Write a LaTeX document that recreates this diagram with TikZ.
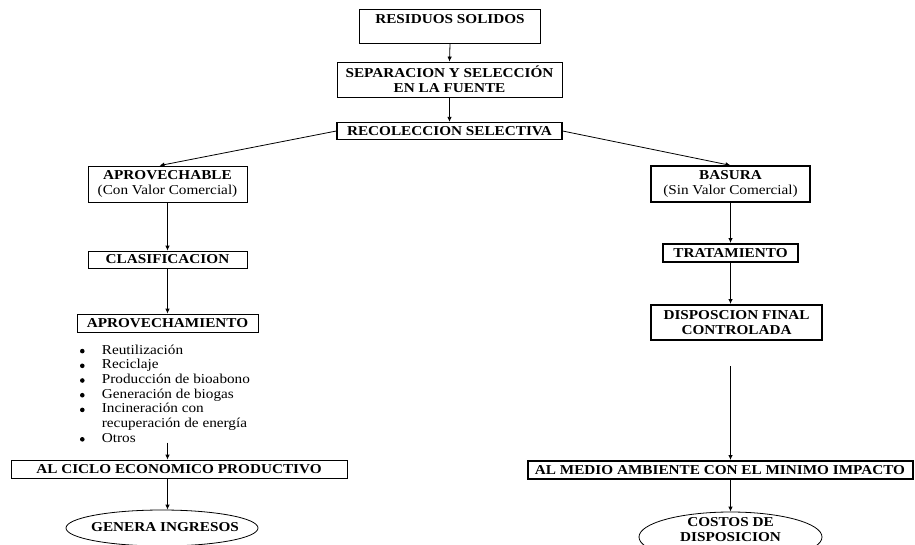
\documentclass[tikz,border=0pt]{standalone}
\usepackage{fontspec}
\setmainfont{Liberation Serif}[FakeStretch=1.12]
\usetikzlibrary{arrows.meta,shapes.geometric,calc}
\tikzset{
  box/.style={draw,line width=0.8pt,inner sep=0pt,align=center,font=\fontsize{13.6}{15}\selectfont\bfseries},
  medbox/.style={box,line width=1.3pt},
  thickbox/.style={box,line width=2pt},
  oval/.style={draw,ellipse,line width=0.8pt,inner sep=0pt},
  ovaltext/.style={inner sep=0pt,align=center,font=\fontsize{13.6}{15}\selectfont\bfseries},
  arr/.style={line width=0.8pt,-{Latex[length=5pt,width=4.5pt]}},
  bulletdot/.style={fill=black}
}
\begin{document}
\begin{tikzpicture}[x=1pt,y=-1pt]
\clip (0,0) rectangle (915,544);
\fill[white] (0,0) rectangle (915,544);
% center column
\node[box,minimum width=181pt,minimum height=34pt] (res) at (450,26.5) {RESIDUOS SOLIDOS\\\mbox{}};
\node[box,minimum width=225pt,minimum height=35pt] (sep) at (449.5,79.5) {SEPARACION Y SELECCIÓN\\EN LA FUENTE};
\node[medbox,minimum width=225pt,minimum height=17pt] (rec) at (449.5,131) {RECOLECCION SELECTIVA};
% left column
\node[box,minimum width=159pt,minimum height=36pt] (aprov) at (167.5,184) {APROVECHABLE\\{\mdseries (Con Valor Comercial)}};
\node[box,minimum width=159pt,minimum height=17pt] (clas) at (167.5,259.5) {CLASIFICACION};
\node[box,minimum width=181pt,minimum height=18pt] (aprovech) at (167.5,323) {APROVECHAMIENTO};
\node[anchor=north west,inner sep=0pt,align=left,font=\fontsize{13.6}{14.7}\selectfont] (list) at (101.7,344.5)
 {Reutilización\\
 Reciclaje\\
 Producción de bioabono\\
 Generación de biogas\\
 Incineración con\\
 recuperación de energía\\
 Otros};
\foreach \i in {0,1,2,3,4,6}
  \fill[bulletdot] ($(list.north west)+(-19.4,6.6+14.7*\i)$) circle (2.3pt);
\node[box,minimum width=336pt,minimum height=18pt] (ciclo) at (179,469) {AL CICLO ECONOMICO PRODUCTIVO};
\node[oval,minimum width=192pt,minimum height=36pt] (genera) at (162,528) {};
\node[ovaltext] (generatxt) at (165,527) {GENERA INGRESOS};
% right column
\node[medbox,minimum width=159pt,minimum height=36pt] (bas) at (730.5,184) {BASURA\\{\mdseries (Sin Valor Comercial)}};
\node[thickbox,minimum width=135pt,minimum height=18pt] (trat) at (730.5,253) {TRATAMIENTO};
\node[thickbox,minimum width=171pt,minimum height=35pt] (disp) at (736.5,322.5) {DISPOSCION FINAL\\CONTROLADA};
\node[thickbox,minimum width=385pt,minimum height=18pt] (medio) at (720,470) {AL MEDIO AMBIENTE CON EL MINIMO IMPACTO};
\node[oval,minimum width=183pt,minimum height=50pt] (costos) at (730.5,537) {};
\node[ovaltext] (costostxt) at (730.5,529.5) {COSTOS DE\\DISPOSICION};
\coordinate (dfree) at (730.5,366);
% connectors
\draw[arr] (res.south) -- (sep.north);
\draw[arr] (sep.south) -- (rec.north);
\draw[arr] (rec.west) -- ($(aprov.north west)!0.45!(aprov.north east)$);
\draw[arr] (rec.east) -- (bas.north);
\draw[arr] (aprov.south) -- (clas.north);
\draw[arr] (clas.south) -- (aprovech.north);
\draw[arr] (list.south -| clas.south) -- (ciclo.north -| clas.south);
\draw[arr] (ciclo.south -| clas.south) -- (genera.north -| clas.south);
\draw[arr] (bas.south) -- (trat.north);
\draw[arr] (trat.south) -- (disp.north -| trat.south);
\draw[arr] (dfree) -- (medio.north -| dfree);
\draw[arr] (medio.south -| dfree) -- (costos.north);
\end{tikzpicture}
\end{document}
